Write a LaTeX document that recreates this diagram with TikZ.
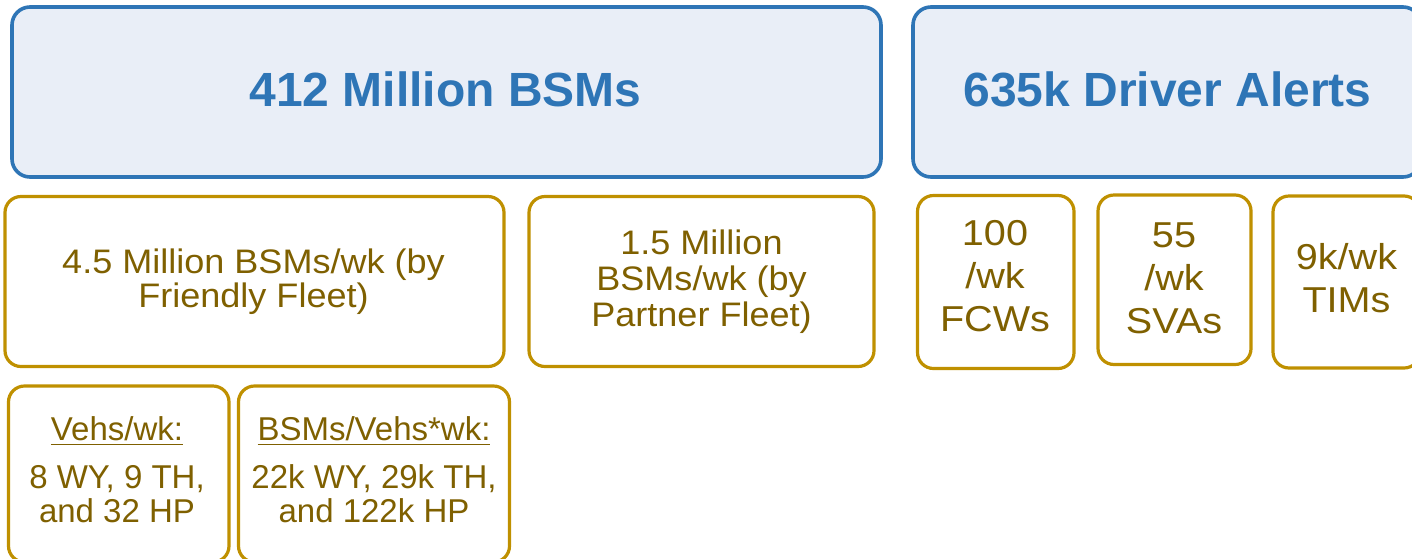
\documentclass[tikz,border=0pt]{standalone}
\usepackage{fontspec}
\setmainfont{Liberation Sans}
\newfontfamily\stretchsans[FakeStretch=1.06]{Liberation Sans}
\newfontfamily\widesans[FakeStretch=1.1]{Liberation Sans}
\usetikzlibrary{fit}
\definecolor{boxblue}{HTML}{2E75B6}
\definecolor{boxfill}{HTML}{E9EEF7}
\definecolor{goldline}{HTML}{BF9000}
\definecolor{goldtext}{HTML}{7F6000}
% heading with a rule underneath, kept out of the line height
\newcommand\ulined[1]{\setbox0=\hbox{#1}\rlap{\rule[-4.5pt]{\wd0}{1.8pt}}\box0}

\begin{document}
\begin{tikzpicture}[x=1pt, y=-1pt,
  total/.style={draw=boxblue, fill=boxfill, line width=3.6pt,
                rounded corners=18pt, inner sep=0pt},
  part/.style={draw=goldline, fill=white, line width=3.2pt,
               rounded corners=16pt, inner sep=0pt},
  headline/.style={text=boxblue, inner sep=0pt,
                   font=\fontsize{48}{56}\selectfont\bfseries},
  fleettext/.style={text=goldtext, inner sep=0pt, align=center,
                    font=\stretchsans\fontsize{34}{#1}\selectfont},
  alerttext/.style={text=goldtext, inner sep=0pt, align=center,
                    font=\widesans\fontsize{36}{43}\selectfont},
  vehtext/.style={text=goldtext, inner sep=0pt, align=center,
                  font=\fontsize{33}{34}\selectfont}]
\useasboundingbox (0,0) rectangle (1412,558);
\clip (0,0) rectangle (1412,558);

% totals
\node[total, fit={(12,7) (881,177)}] (bsm) {};
\node[headline] (bsmlabel) at (445.5,89.5) {412 Million BSMs};
\node[total, fit={(913,7) (1421,177)}] (alerts) {};
\node[headline] (alertslabel) at (1167.5,89.5) {635k Driver Alerts};

% BSM sources
\node[part, fit={(5,196.5) (504,366.5)}] (friendly) {};
\node[fleettext=34] (friendlylabel) at (253.5,282)
  {4.5 Million BSMs/wk (by\\Friendly Fleet)};
\node[part, fit={(529,196.5) (874,366.5)}] (partner) {};
\node[fleettext=36] (partnerlabel) at (701.5,282)
  {1.5 Million\\BSMs/wk (by\\Partner Fleet)};

% alert types
\node[part, fit={(917.5,195.5) (1074,368.5)}] (fcw) {};
\node[alerttext] (fcwlabel) at (995,276) {100\\/wk\\FCWs};
\node[part, fit={(1098,195) (1251,364.5)}] (sva) {};
\node[alerttext] (svalabel) at (1174,278) {55\\/wk\\SVAs};
\node[part, fit={(1273,196) (1420,368)}] (tim) {};
\node[alerttext] (timlabel) at (1346.5,278) {9k/wk\\TIMs};

% friendly fleet detail
\node[part, fit={(8.5,386) (229,562)}] (vehs) {};
\node[vehtext] (vehslabel) at (117,470)
  {\ulined{Vehs/wk:}\\[14pt]8 WY, 9 TH,\\and 32 HP};
\node[part, fit={(238.5,386) (509.5,562)}] (rate) {};
\node[vehtext] (ratelabel) at (374,470)
  {\ulined{BSMs/Vehs*wk:}\\[14pt]22k WY, 29k TH,\\and 122k HP};
\end{tikzpicture}
\end{document}
